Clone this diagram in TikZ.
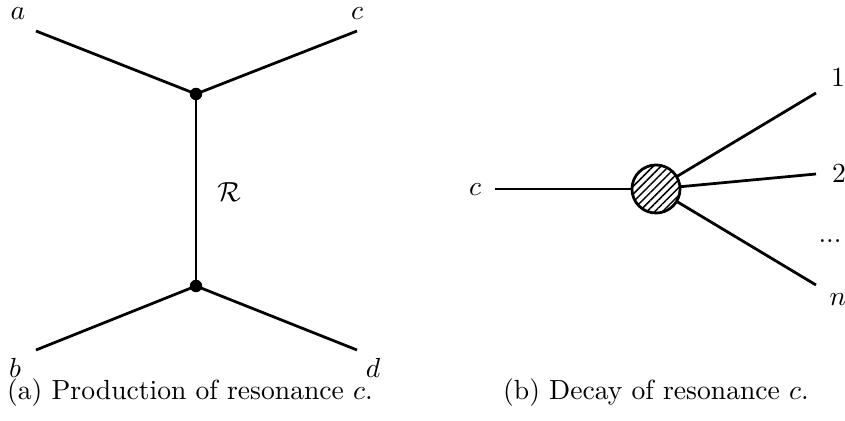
\documentclass[tikz,border=0pt]{standalone}
\usetikzlibrary{patterns.meta}
\begin{document}
\begin{tikzpicture}[x=0.362pt,y=-0.362pt,
  leg/.style={line width=1pt},
  vtx/.style={circle,fill=black,inner sep=0pt,minimum size=4.5pt},
  lbl/.style={inner sep=0pt},
  blobstyle/.style={circle,draw,line width=1pt,minimum size=17.4pt,inner sep=0pt,
    pattern={Lines[angle=45,distance=2pt,line width=0.55pt]}}]
\useasboundingbox (0,0) rectangle (845,421);
% (a) production
\coordinate (ea) at (36,31);
\coordinate (ec) at (357,31);
\coordinate (eb) at (36,350);
\coordinate (ed) at (357,350);
\node[vtx] (v1) at (196,94) {};
\node[vtx] (v2) at (196,286) {};
\draw[leg] (ea) -- (v1.center) -- (ec);
\draw[leg] (v1.center) -- (v2.center);
\draw[leg] (eb) -- (v2.center) -- (ed);
\node[lbl] (la) at (18,14) {$a$};
\node[lbl] (lc) at (357,14) {$c$};
\node[lbl] (lb) at (15,368) {$b$};
\node[lbl] (ld) at (373,368) {$d$};
\node[lbl] (lR) at (229,192) {$\mathcal{R}$};
\node[lbl] (capa) at (190,393) {(a) Production of resonance $c$.};
% (b) decay
\node[blobstyle] (blob) at (656,189) {};
\coordinate (ein) at (495,189);
\coordinate (e1) at (816,93);
\coordinate (e2) at (816,174);
\coordinate (en) at (816,285);
\draw[leg] (ein) -- (blob);
\draw[leg] (blob) -- (e1);
\draw[leg] (blob) -- (e2);
\draw[leg] (blob) -- (en);
\node[lbl] (lcin) at (475,190) {$c$};
\node[lbl] (l1) at (838,78) {$1$};
\node[lbl] (l2) at (839,174) {$2$};
\node[lbl,anchor=base west] (ldots) at (818,243) {...};
\node[lbl] (ln) at (838,300) {$n$};
\node[lbl] (capb) at (656,393) {(b) Decay of resonance $c$.};
\end{tikzpicture}
\end{document}
